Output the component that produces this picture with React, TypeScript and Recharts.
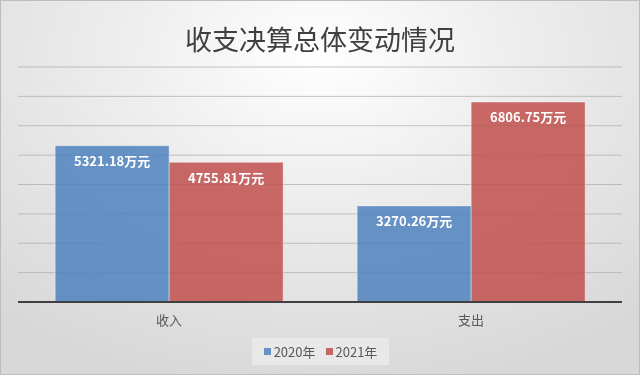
import React from "react";
import { BarChart, Bar, XAxis, YAxis, CartesianGrid, Legend, LabelList } from "recharts";

const categories = ["收入", "支出"];
const values2020 = [5321.18, 3270.26];
const values2021 = [4755.81, 6806.75];
const seriesNames = ["2020年", "2021年"];
const yTicks = [0, 1000, 2000, 3000, 4000, 5000, 6000, 7000, 8000];
const title = "收支决算总体变动情况";

const data = categories.map((c, i) => ({ name: c, a: values2020[i], b: values2021[i] }));

const colors = ["#4F81BD", "#C0504D"];
const font = "'Noto Sans CJK SC', 'Noto Sans', sans-serif";

const fmt = (v: any) => `${Number(v).toFixed(2)}万元`;

const LegendContent = () => (
  <div
    style={{
      display: "flex",
      alignItems: "center",
      justifyContent: "center",
      background: "rgba(235,235,235,0.8)",
      padding: "4px 8px",
      fontFamily: font,
      fontSize: 13,
      color: "#595959",
      width: 121,
      height: 19,
    }}
  >
    {seriesNames.map((n, i) => (
      <span key={n} style={{ display: "flex", alignItems: "center", marginLeft: i ? 10 : 0 }}>
        <span style={{ width: 7, height: 7, background: colors[i], opacity: 0.85, marginRight: 3, display: "inline-block" }} />
        {n}
      </span>
    ))}
  </div>
);

export default function App() {
  return (
    <div
      style={{
        position: "fixed",
        left: 0,
        top: 0,
        width: 640,
        height: 375,
        boxSizing: "border-box",
        border: "1px solid #bdbdbd",
        background: "radial-gradient(ellipse 75% 90% at 50% 15%, #ffffff 0%, #eeeeee 40%, #d8d8d8 100%)",
        overflow: "hidden",
      }}
    >
      <div
        style={{
          position: "absolute",
          left: 0,
          top: 18,
          width: 638,
          textAlign: "center",
          fontFamily: font,
          fontSize: 27,
          color: "#404040",
          lineHeight: "40px",
        }}
      >
        {title}
      </div>
      <div style={{ position: "absolute", left: -1, top: -1 }}>
        <BarChart
          width={640}
          height={375}
          data={data}
          margin={{ top: 67, right: 18, bottom: 0, left: 18 }}
          barCategoryGap="12.3%"
          barGap={0}
        >
          <CartesianGrid vertical={false} stroke="#a0a0a0" strokeOpacity={0.6} strokeWidth={1} />
          <YAxis hide domain={[0, 8000]} ticks={yTicks} />
          <XAxis
            dataKey="name"
            height={73}
            axisLine={{ stroke: "#404040", strokeWidth: 2 }}
            tickLine={false}
            tickMargin={8}
            tick={{ fill: "#595959", fontSize: 13, fontFamily: font }}
          />
          <Legend
            verticalAlign="middle"
            layout="horizontal"
            wrapperStyle={{ top: 338, left: 252, width: 137 }}
            content={<LegendContent />}
          />
          <Bar dataKey="a" name={seriesNames[0]} fill={colors[0]} fillOpacity={0.85} stroke="#ffffff" strokeOpacity={0.4} isAnimationActive={false}>
            <LabelList dataKey="a" position="insideTop" offset={11} formatter={fmt} fill="#ffffff" fontSize={13} fontWeight="bold" fontFamily={font} />
          </Bar>
          <Bar dataKey="b" name={seriesNames[1]} fill={colors[1]} fillOpacity={0.85} stroke="#ffffff" strokeOpacity={0.4} isAnimationActive={false}>
            <LabelList dataKey="b" position="insideTop" offset={11} formatter={fmt} fill="#ffffff" fontSize={13} fontWeight="bold" fontFamily={font} />
          </Bar>
        </BarChart>
      </div>
    </div>
  );
}
